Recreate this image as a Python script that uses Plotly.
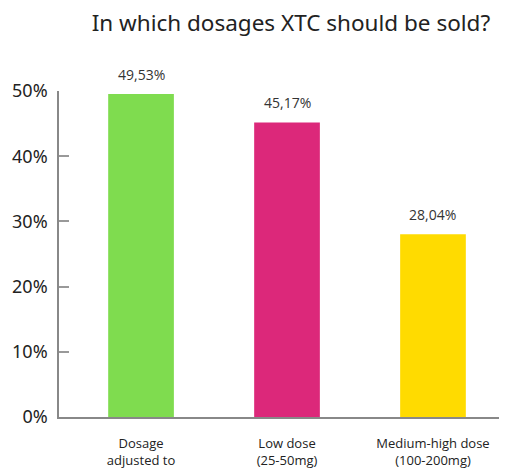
import plotly.graph_objects as go

categories = ["Dosage<br>adjusted to", "Low dose<br>(25-50mg)", "Medium-high dose<br>(100-200mg)"]
values = [49.53, 45.17, 28.04]
value_labels = ["49,53%", "45,17%", "28,04%"]
colors = ["#7FDC4F", "#DC287A", "#FFDB00"]
y_ticks = [0, 10, 20, 30, 40, 50]
y_tick_labels = ["0%", "10%", "20%", "30%", "40%", "50%"]

fig = go.Figure()
fig.add_trace(go.Bar(
    x=[0, 1, 2], y=values,
    marker=dict(color=colors, line=dict(width=0)),
    width=0.45, cliponaxis=False,
))

for i, (v, lab) in enumerate(zip(values, value_labels)):
    fig.add_annotation(x=i, y=v, text=lab, showarrow=False, yanchor="middle", yshift=20,
                       font=dict(family="Open Sans", size=14, color="#333333"))

# page body has an 8px margin, so the figure is sized to 499x460
fig.update_layout(
    width=499, height=460,
    margin=dict(l=51, r=0, t=83, b=51),
    plot_bgcolor="white", paper_bgcolor="white",
    showlegend=False,
    title=dict(text="In which dosages XTC should be sold?", x=0.567, xanchor="center",
               y=0.968, yanchor="middle",
               font=dict(family="Noto Sans", size=22.5, color="#222222")),
    xaxis=dict(range=[-0.562, 2.507], tickvals=[0, 1, 2], ticktext=categories,
               showline=True, linecolor="#888888", linewidth=1.5, ticks="",
               showgrid=False, zeroline=False, ticklabelstandoff=14, automargin=False,
               tickfont=dict(family="Open Sans", size=13, color="#222222")),
    yaxis=dict(range=[0, 50], tickvals=y_ticks, ticktext=y_tick_labels,
               showline=True, linecolor="#888888", linewidth=1.5,
               ticks="inside", ticklen=10, tickcolor="#999999", tickwidth=1.5,
               showgrid=False, zeroline=False, ticklabelstandoff=6, automargin=False,
               tickfont=dict(family="Noto Sans", size=18, color="#222222")),
)

fig.write_html("out.html")
